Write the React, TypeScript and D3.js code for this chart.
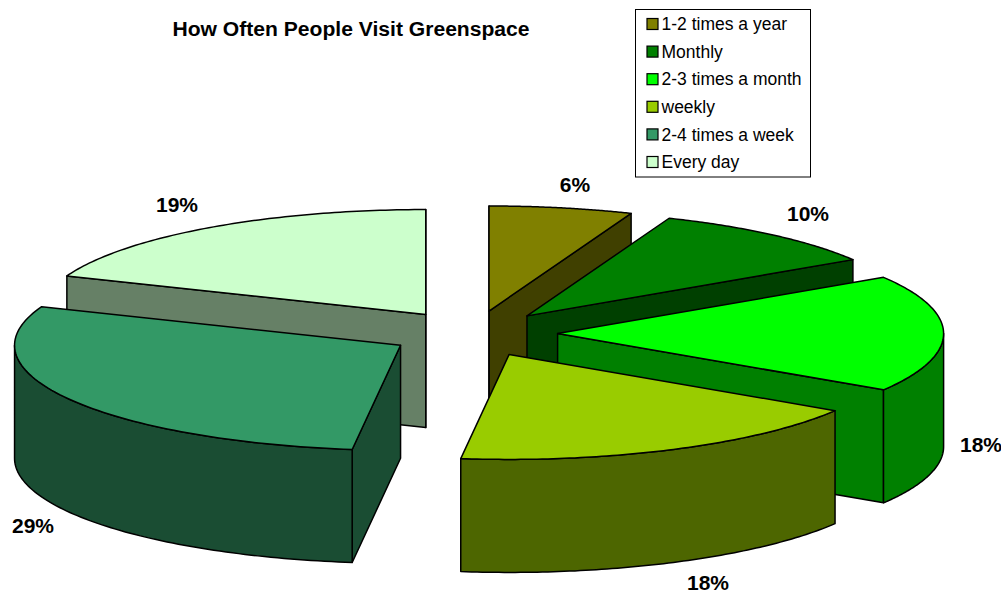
import React from 'react';
import * as d3 from 'd3';

// Chart data
const categories = ['1-2 times a year', 'Monthly', '2-3 times a month', 'weekly', '2-4 times a week', 'Every day'];
const shares = [6, 10, 18, 18, 29, 19];
const topColors = ['#808000', '#008000', '#00ff00', '#99cc00', '#339966', '#ccffcc'];
const sideColors = ['#404000', '#004000', '#008000', '#4d6600', '#1a4d33', '#668066'];

// Label centres, in slice order
const labelX = [575, 808, 981, 708, 33, 177];
const labelY = [185, 214, 445, 583, 526, 205];

const width = 1001;
const height = 591;

// Projected pie geometry
const cx = 473.2;
const cy = 333.6;
const rx = 386;
const ry = 105;
const explodeX = 84.4;
const explodeY = 23;
const depth = 113;

const font = 'Arial, "Liberation Sans", sans-serif';

const legendY = d3.scalePoint<string>().domain(categories).range([24, 162]);

const slices = d3.pie<number>().sort(null)(shares).map((s, i) => {
  const mid = (s.startAngle + s.endAngle) / 2;
  return {
    i,
    a0: s.startAngle,
    a1: s.endAngle,
    ox: cx + explodeX * Math.sin(mid),
    oy: cy - explodeY * Math.cos(mid),
  };
});

type Slice = (typeof slices)[number];
type Pt = [number, number];

const rimPoint = (s: Slice, a: number, dy = 0): Pt => [
  s.ox + rx * Math.sin(a),
  s.oy - ry * Math.cos(a) + dy,
];

const rim = (s: Slice, a0: number, a1: number, dy = 0): Pt[] => {
  const angle = d3.scaleLinear().domain([0, 80]).range([a0, a1]);
  return d3.range(81).map(k => rimPoint(s, angle(k), dy));
};

const line = d3.line();
const closed = (pts: Pt[]) => line(pts) + 'Z';

function wall(s: Slice, a: number) {
  const e = rimPoint(s, a);
  const e2 = rimPoint(s, a, depth);
  return closed([[s.ox, s.oy], e, e2, [s.ox, s.oy + depth]]);
}

function SlicePaths({ s }: { s: Slice }) {
  const side = sideColors[s.i];
  const stroke = { stroke: '#000', strokeWidth: 1.5, strokeLinejoin: 'round' as const };
  const frontA0 = Math.max(s.a0, Math.PI / 2);
  const frontA1 = Math.min(s.a1, Math.PI * 1.5);
  const hasFront = frontA1 > frontA0;
  return (
    <g>
      {Math.sin(s.a1) > 1e-6 && <path d={wall(s, s.a1)} fill={side} {...stroke} />}
      {Math.sin(s.a0) < -1e-6 && <path d={wall(s, s.a0)} fill={side} {...stroke} />}
      {s.a1 > Math.PI * 2 - 1e-6 && <path d={wall(s, s.a1)} fill={side} {...stroke} />}
      {s.a0 < 1e-6 && <path d={wall(s, s.a0)} fill={side} {...stroke} />}
      {hasFront && (
        <path
          d={closed([...rim(s, frontA0, frontA1), ...rim(s, frontA1, frontA0, depth)])}
          fill={side}
          {...stroke}
        />
      )}
      <path d={closed([[s.ox, s.oy], ...rim(s, s.a0, s.a1)])} fill={topColors[s.i]} {...stroke} />
    </g>
  );
}

export default function App() {
  // paint from back to front
  const ordered = [...slices].sort((a, b) => d3.ascending(a.oy, b.oy));
  return (
    <svg
      width={width}
      height={height}
      viewBox={`0 0 ${width} ${height}`}
      style={{ position: 'absolute', left: 0, top: 0, background: '#fff' }}
      fontFamily={font}
    >
      <text x={351} y={36} textAnchor="middle" fontSize={21.1} fontWeight="bold" fill="#000">
        How Often People Visit Greenspace
      </text>

      {ordered.map(s => (
        <SlicePaths key={s.i} s={s} />
      ))}

      {shares.map((v, i) => (
        <text
          key={categories[i]}
          x={labelX[i]}
          y={labelY[i]}
          dy="0.35em"
          textAnchor="middle"
          fontSize={21}
          fontWeight="bold"
          fill="#000"
        >
          {v}%
        </text>
      ))}

      <rect x={635.5} y={9.5} width={175} height={167.5} fill="#fff" stroke="#000" strokeWidth={1} />
      {categories.map((c, i) => (
        <g key={c} transform={`translate(0,${legendY(c)})`}>
          <rect x={647} y={-5.5} width={11} height={11} fill={topColors[i]} stroke="#000" strokeWidth={1.2} />
          <text x={661.5} y={0} dy="0.35em" fontSize={17.5} fill="#000">
            {c}
          </text>
        </g>
      ))}
    </svg>
  );
}
